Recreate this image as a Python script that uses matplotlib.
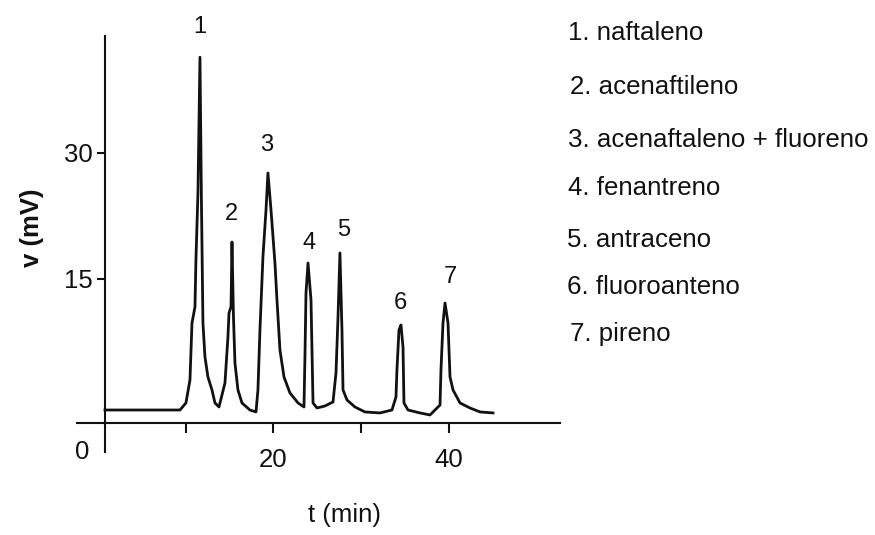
import matplotlib
matplotlib.use("Agg")
import matplotlib.pyplot as plt

plt.rcParams["font.family"] = ["Liberation Sans", "DejaVu Sans"]

# Chromatogram trace: retention time (min) and detector signal (mV)
time_min = [0.8, 9.35, 10.03, 10.49, 10.72, 11.06, 11.17, 11.40, 11.63, 11.80,
            11.97, 12.20, 12.54, 13.00, 13.34, 13.80, 14.48, 14.82, 14.94, 15.17,
            15.28, 15.45, 15.62, 15.96, 16.42, 17.33, 18.02, 18.24, 18.47, 18.81,
            19.16, 19.38, 19.73, 20.18, 20.41, 20.75, 21.21, 21.89, 22.81, 23.49,
            23.60, 23.72, 23.95, 24.29, 24.52, 24.97, 25.88, 26.80, 27.14, 27.37,
            27.59, 27.82, 27.94, 28.39, 29.30, 30.44, 32.16, 33.52, 33.98, 34.09,
            34.32, 34.55, 34.78, 34.89, 35.35, 36.72, 37.86, 39.00, 39.11, 39.34,
            39.57, 39.91, 40.14, 40.48, 41.28, 42.42, 43.56, 45.04]
signal_mv = [-0.60, -0.60, 0.24, 2.98, 9.76, 11.67, 17.26, 25.24, 41.40, 24.05,
             9.76, 5.71, 3.33, 1.79, 0.24, -0.24, 2.62, 8.10, 10.95, 11.67,
             19.40, 10.48, 5.00, 1.79, 0.24, -0.60, -0.83, 1.79, 8.93, 17.62,
             23.21, 27.62, 23.21, 16.90, 12.50, 6.55, 3.33, 1.43, 0.24, -0.24,
             5.71, 13.33, 16.90, 12.50, 0.24, -0.36, -0.12, 0.36, 3.81, 10.48,
             18.10, 8.93, 1.79, 0.60, -0.24, -0.83, -0.95, -0.60, 0.95, 4.17,
             8.93, 9.52, 6.90, 0.24, -0.60, -0.95, -1.19, 0.00, 4.17, 9.76,
             12.14, 9.76, 3.33, 1.79, 0.24, -0.36, -0.83, -0.95]

# Peak numbers and where their labels sit (time, signal)
peak_ids = ["1", "2", "3", "4", "5", "6", "7"]
peak_label_t = [11.63, 15.22, 19.27, 24.06, 28.05, 34.44, 40.14]
peak_label_v = [45.0, 22.74, 30.95, 19.29, 20.83, 12.14, 15.24]

# Compound key
compounds = ["1. naftaleno", "2. acenaftileno", "3. acenaftaleno + fluoreno",
             "4. fenantreno", "5. antraceno", "6. fluoroanteno", "7. pireno"]

x_ticks = [10, 20, 30, 40]
x_tick_labels = ["", "20", "", "40"]
y_ticks = [15, 30]
y_tick_labels = ["15", "30"]

W, H = 875, 535
fig = plt.figure(figsize=(W / 100, H / 100), dpi=100)
fig.patch.set_facecolor("white")

ax = fig.add_axes([77 / W, 1 - 452 / H, 483 / W, 416 / H])
ax.set_xlim(-2.39, 52.68)
ax.set_ylim(-5.6, 43.93)

ax.plot(time_min, signal_mv, color="#111111", lw=2.0, solid_joinstyle="round")

for pid, tx, ty in zip(peak_ids, peak_label_t, peak_label_v):
    ax.text(tx, ty, pid, ha="center", va="center", fontsize=17,
            color="#111111", clip_on=False)

# Axes cross each other, as in a classic instrument printout
for side in ("top", "right"):
    ax.spines[side].set_visible(False)
ax.spines["left"].set_position(("data", 0.8))
ax.spines["bottom"].set_position(("data", -2.14))
for side in ("left", "bottom"):
    ax.spines[side].set_linewidth(1.5)
    ax.spines[side].set_color("#111111")

ax.set_xticks(x_ticks)
ax.set_xticklabels(x_tick_labels)
ax.set_yticks(y_ticks)
ax.set_yticklabels(y_tick_labels)
ax.tick_params(axis="x", direction="out", length=7, width=1.5, pad=11,
               labelsize=18.5, colors="#111111")
ax.tick_params(axis="y", direction="out", length=5.5, width=1.5, pad=3.5,
               labelsize=18.5, colors="#111111")

# origin label, set off to the lower left of the axis crossing
ax.text(-1.8, -5.6, "0", ha="center", va="center", fontsize=18.5,
        color="#111111", clip_on=False)

fig.text(32 / W, 1 - 228 / H, "v (mV)", rotation=90, ha="center", va="center",
         fontsize=18.5, fontweight="bold", color="#111111")
fig.text(344 / W, 1 - 515 / H, "t (min)", ha="center", va="center",
         fontsize=18.5, color="#111111")

key_x = [568, 570, 568, 568, 567, 567, 570]
key_y = [33, 87, 140, 188, 240, 287, 334]
for name, kx, ky in zip(compounds, key_x, key_y):
    fig.text(kx / W, 1 - ky / H, name, ha="left", va="center",
             fontsize=18.6, color="#111111")

fig.savefig("out.png", dpi=100, facecolor="white")
